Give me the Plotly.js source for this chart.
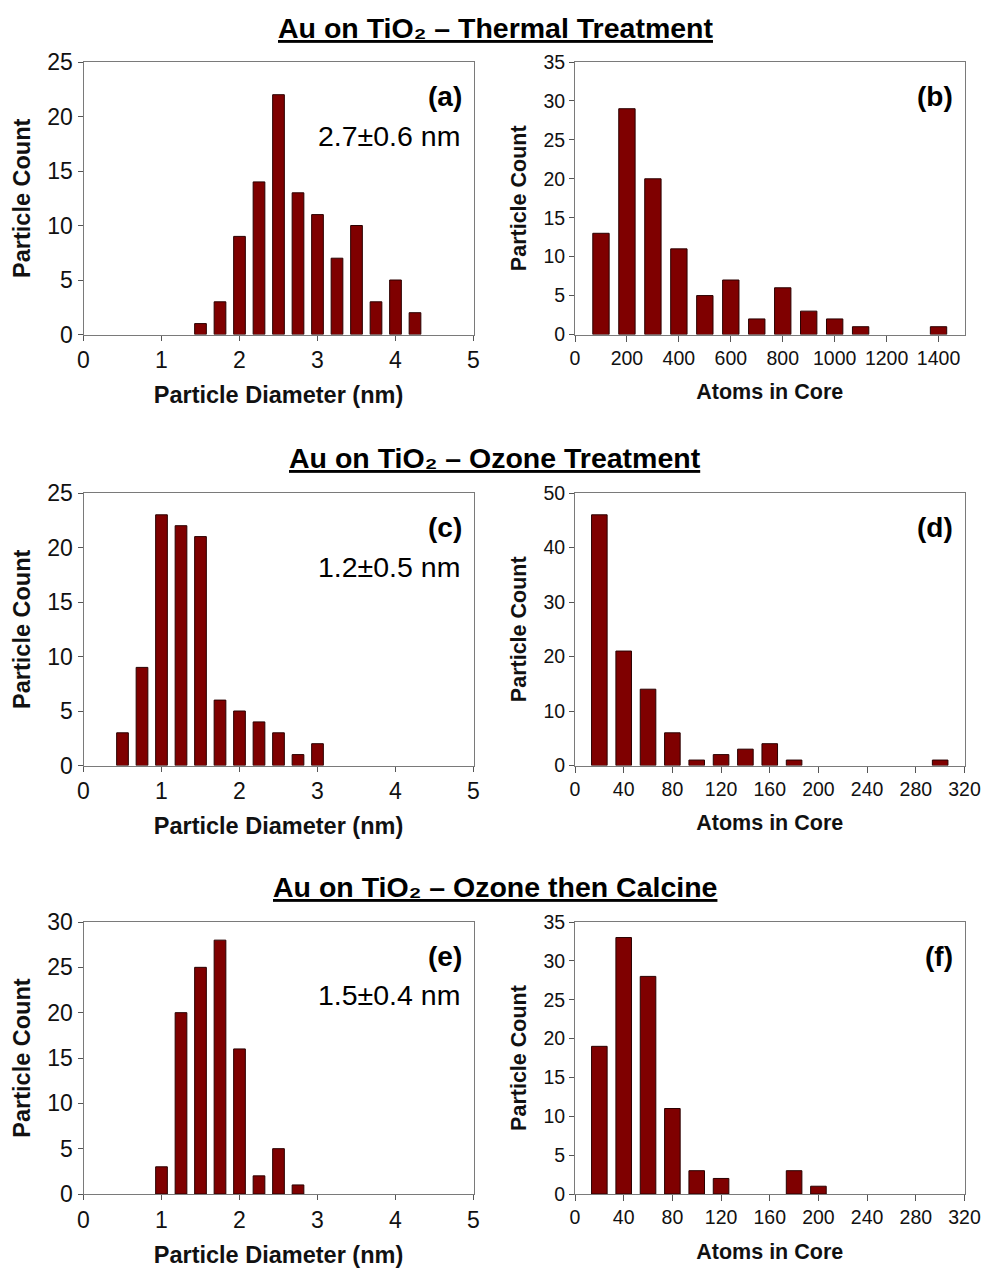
<!DOCTYPE html>
<html>
<head>
<meta charset="utf-8">
<script src="https://cdn.plot.ly/plotly-3.0.1.min.js"></script>
<style>html,body{margin:0;padding:0;background:#fff;}</style>
</head>
<body>
<div id="chart" style="width:984px;height:1271px;"></div>
<script>
// ---- Data ----
const sectionTitles = [
  "Au on TiO₂ – Thermal Treatment",
  "Au on TiO₂ – Ozone Treatment",
  "Au on TiO₂ – Ozone then Calcine"
];
const panelLabels = ["(a)", "(b)", "(c)", "(d)", "(e)", "(f)"];
const meanSizeLabels = ["2.7±0.6 nm", "1.2±0.5 nm", "1.5±0.4 nm"];

// (a) Thermal – particle diameter
const thermalDiam = [1.5, 1.75, 2.0, 2.25, 2.5, 2.75, 3.0, 3.25, 3.5, 3.75, 4.0, 4.25];
const thermalDiamCount = [1, 3, 9, 14, 22, 13, 11, 7, 10, 3, 5, 2];
// (b) Thermal – atoms in core
const thermalAtoms = [100, 200, 300, 400, 500, 600, 700, 800, 900, 1000, 1100, 1400];
const thermalAtomsCount = [13, 29, 20, 11, 5, 7, 2, 6, 3, 2, 1, 1];
// (c) Ozone – particle diameter
const ozoneDiam = [0.5, 0.75, 1.0, 1.25, 1.5, 1.75, 2.0, 2.25, 2.5, 2.75, 3.0];
const ozoneDiamCount = [3, 9, 23, 22, 21, 6, 5, 4, 3, 1, 2];
// (d) Ozone – atoms in core
const ozoneAtoms = [20, 40, 60, 80, 100, 120, 140, 160, 180, 300];
const ozoneAtomsCount = [46, 21, 14, 6, 1, 2, 3, 4, 1, 1];
// (e) Ozone then calcine – particle diameter
const calcDiam = [1.0, 1.25, 1.5, 1.75, 2.0, 2.25, 2.5, 2.75];
const calcDiamCount = [3, 20, 25, 28, 16, 2, 5, 1];
// (f) Ozone then calcine – atoms in core
const calcAtoms = [20, 40, 60, 80, 100, 120, 180, 200];
const calcAtomsCount = [19, 33, 28, 11, 3, 2, 3, 1];

const xTitles = ["Particle Diameter (nm)", "Atoms in Core"];
const yTitle = "Particle Count";

// ---- Styling ----
const FONT = "Liberation Sans, Arial, Helvetica, sans-serif";
const BAR_FILL = "#7f0000";
const BAR_LINE = "#2a0000";

const panels = [
  {x: thermalDiam, y: thermalDiamCount, w: 0.15,  xr: [0, 5],    dx: 1,   yr: [0, 25], dy: 5,  kind: 0},
  {x: thermalAtoms, y: thermalAtomsCount, w: 63, xr: [0, 1500], dx: 200, yr: [0, 35], dy: 5,  kind: 1},
  {x: ozoneDiam, y: ozoneDiamCount, w: 0.15,     xr: [0, 5],    dx: 1,   yr: [0, 25], dy: 5,  kind: 0},
  {x: ozoneAtoms, y: ozoneAtomsCount, w: 12.8,   xr: [0, 320],  dx: 40,  yr: [0, 50], dy: 10, kind: 1},
  {x: calcDiam, y: calcDiamCount, w: 0.15,       xr: [0, 5],    dx: 1,   yr: [0, 30], dy: 5,  kind: 0},
  {x: calcAtoms, y: calcAtomsCount, w: 12.8,     xr: [0, 320],  dx: 40,  yr: [0, 35], dy: 5,  kind: 1}
];

// per-kind text styling (left: diameter panels, right: atom panels)
const styleByKind = [
  {tick: 23, title: 23.5, xStand: 14, yStand: 10, tickLen: 5},
  {tick: 19.5, title: 21.5, xStand: 16, yStand: 10, tickLen: 6}
];

const W = 984, H = 1271;
const colPx = [[83.5, 473.5], [575, 964.5]];
const rowPx = [[62, 334.5], [493, 765.5], [922, 1194]];

const traces = [];
const layout = {
  width: W, height: H,
  margin: {l: 0, r: 0, t: 0, b: 0},
  paper_bgcolor: "#ffffff",
  plot_bgcolor: "#ffffff",
  showlegend: false,
  font: {family: FONT, color: "#000000"},
  annotations: [],
  bargap: 0
};

panels.forEach((p, i) => {
  const n = i + 1;
  const sfx = n === 1 ? "" : String(n);
  const col = i % 2, row = Math.floor(i / 2);
  const st = styleByKind[p.kind];
  traces.push({
    type: "bar",
    x: p.x, y: p.y, width: p.w,
    xaxis: "x" + sfx, yaxis: "y" + sfx,
    marker: {color: BAR_FILL, line: {color: BAR_LINE, width: 1}},
    hoverinfo: "x+y"
  });
  layout["xaxis" + sfx] = {
    domain: [colPx[col][0] / W, colPx[col][1] / W],
    anchor: "y" + sfx,
    range: p.xr, dtick: p.dx, tick0: 0,
    showgrid: false, zeroline: false,
    showline: true, linecolor: "#7a7a7a", linewidth: 1, mirror: true,
    ticks: "outside", ticklen: st.tickLen, tickcolor: "#555555",
    tickfont: {size: st.tick, family: FONT, color: "#111"},
    title: {text: xTitles[p.kind], font: {size: st.title, family: FONT, weight: "bold", color: "#111"}, standoff: st.xStand}
  };
  layout["yaxis" + sfx] = {
    domain: [1 - rowPx[row][1] / H, 1 - rowPx[row][0] / H],
    anchor: "x" + sfx,
    range: p.yr, dtick: p.dy, tick0: 0,
    showgrid: false, zeroline: false,
    showline: true, linecolor: "#7a7a7a", linewidth: 1, mirror: true,
    ticks: "outside", ticklen: 5, tickcolor: "#555555",
    tickfont: {size: st.tick, family: FONT, color: "#111"},
    title: {text: yTitle, font: {size: st.title, family: FONT, weight: "bold", color: "#111"}, standoff: st.yStand}
  };
  // panel label
  layout.annotations.push({
    xref: "x" + sfx + " domain", yref: "y" + sfx + " domain",
    x: 0.975, y: 0.875, xanchor: "right", yanchor: "middle",
    text: panelLabels[i], showarrow: false,
    font: {size: 28, family: FONT, weight: "bold", color: "#000"}
  });
  if (p.kind === 0) {
    layout.annotations.push({
      xref: "x" + sfx + " domain", yref: "y" + sfx + " domain",
      x: 0.97, y: 0.73, xanchor: "right", yanchor: "middle",
      text: meanSizeLabels[row], showarrow: false,
      font: {size: 28.5, family: FONT, color: "#000"}
    });
  }
});

const titleY = [28, 458, 887];
sectionTitles.forEach((t, r) => {
  layout.annotations.push({
    xref: "paper", yref: "paper",
    x: 495 / W, y: 1 - titleY[r] / H, xanchor: "center", yanchor: "middle",
    text: "<u>" + t + "</u>", showarrow: false,
    font: {size: 28.5, family: FONT, weight: "bold", color: "#000"}
  });
});

Plotly.newPlot("chart", traces, layout, {staticPlot: true, displayModeBar: false});
</script>
</body>
</html>
